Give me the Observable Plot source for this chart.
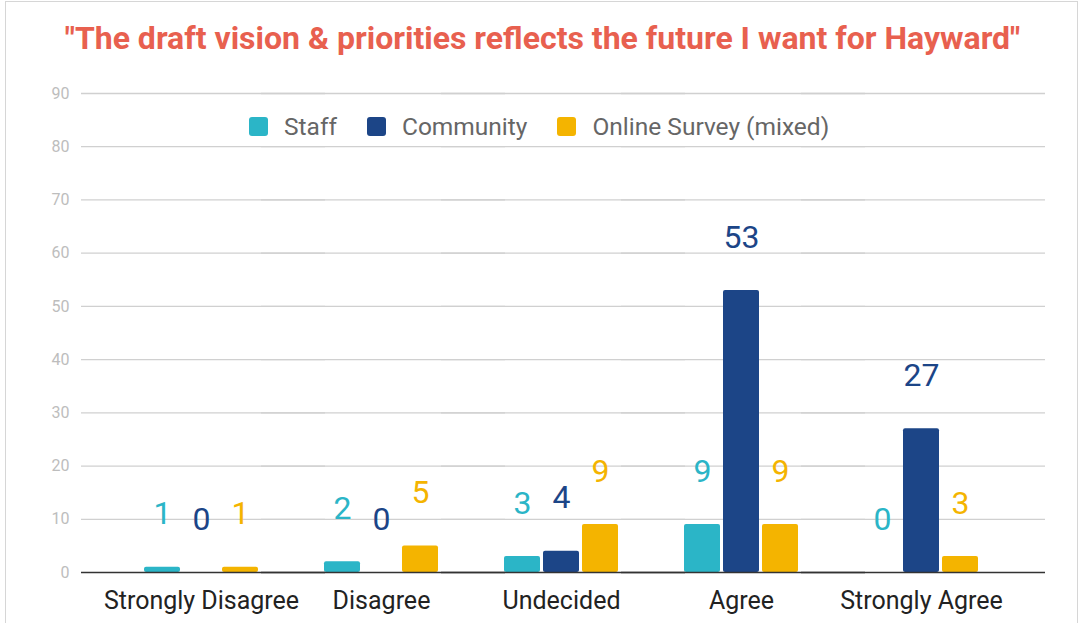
<!DOCTYPE html>
<html><head><meta charset="utf-8">
<script src="https://cdn.jsdelivr.net/npm/d3@7"></script>
<script src="https://cdn.jsdelivr.net/npm/@observablehq/plot@0.6"></script>
<style>
html,body{margin:0;padding:0;background:#fff;}
body{width:1079px;height:623px;position:relative;overflow:hidden;font-family:Roboto,sans-serif;}
#frame{position:absolute;left:5px;top:1px;width:1073px;height:700px;border:1.5px solid #d6d6d6;box-sizing:border-box;pointer-events:none;}
#title{height:70px;box-sizing:border-box;padding-top:22px;line-height:32px;text-align:center;font-size:32px;font-weight:700;color:#e8604f;white-space:nowrap;}
#title span{display:inline-block;margin-left:6px;}
#legend{position:absolute;top:112px;left:249px;display:flex;align-items:center;font-size:24.5px;color:#666;}
.item{display:flex;align-items:center;margin-right:30px;}
.sw{width:19px;height:19px;border-radius:3px;margin-right:16px;}
#chart{position:absolute;left:0;top:70px;}
</style>
</head><body>
<div id="frame"></div>
<div id="title"><span>"The draft vision &amp; priorities reflects the future I want for Hayward"</span></div>
<div id="chart"></div>
<div id="legend"></div>
<script>
const categories = ["Strongly Disagree", "Disagree", "Undecided", "Agree", "Strongly Agree"];
const seriesNames = ["Staff", "Community", "Online Survey (mixed)"];
const staff = [1, 2, 3, 9, 0];
const community = [0, 0, 4, 53, 27];
const online = [1, 5, 9, 9, 3];
const colors = ["#2bb5c7", "#1c4587", "#f4b400"];
const yTicks = [0, 10, 20, 30, 40, 50, 60, 70, 80, 90];

const seriesValues = [staff, community, online];
const data = categories.flatMap((c, i) => seriesNames.map((s, j) => ({category: c, series: s, value: seriesValues[j][i]})));

const plot = Plot.plot({
  width: 1079, height: 553,
  marginTop: 23, marginBottom: 51, marginLeft: 110, marginRight: 68,
  fx: {domain: categories, padding: 0, label: null},
  x: {domain: seriesNames, paddingInner: 0.075, paddingOuter: 0.79, axis: null},
  y: {domain: [0, 90]},
  color: {domain: seriesNames, range: colors},
  style: {fontFamily: "Roboto", background: "transparent"},
  marks: [
    Plot.ruleY(yTicks.filter(d => d > 0), {stroke: "#d0d0d0", strokeWidth: 1.3, insetLeft: -30, insetRight: -34}),
    Plot.axisY({ticks: yTicks, tickSize: 0, tickPadding: 42, fill: "#bdbdbd", fontSize: 16, label: null}),
    Plot.barY(data, {fx: "category", x: "series", y: "value", fill: "series", rx: 2}),
    Plot.ruleY([0], {stroke: "#333", strokeWidth: 1.6, insetLeft: -30, insetRight: -34}),
    Plot.text(data, {fx: "category", x: "series", y: "value", text: "value", fill: "series", fontSize: 32, dy: -53, lineAnchor: "middle"}),
    Plot.axisFx({anchor: "bottom", tickSize: 0, tickPadding: 19, fontSize: 25, fill: "#222", label: null})
  ]
});
document.getElementById("chart").appendChild(plot);

const legend = document.getElementById("legend");
seriesNames.forEach((s, i) => {
  const it = document.createElement("div");
  it.className = "item";
  const sw = document.createElement("div");
  sw.className = "sw";
  sw.style.background = colors[i];
  const t = document.createElement("span");
  t.textContent = s;
  it.appendChild(sw); it.appendChild(t);
  legend.appendChild(it);
});
</script>
</body></html>
